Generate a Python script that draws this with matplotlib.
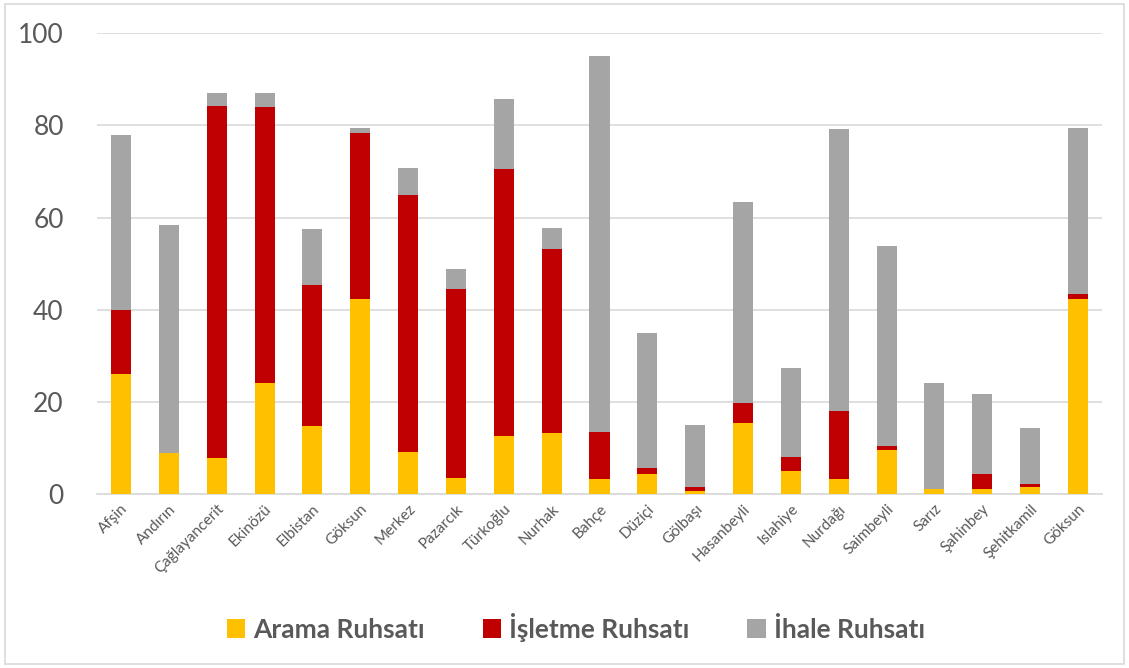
import numpy as np
import matplotlib.pyplot as plt
from matplotlib.patches import Rectangle

ilceler = ['Afşin', 'Andırın', 'Çağlayancerit', 'Ekinözü', 'Elbistan', 'Göksun', 'Merkez',
           'Pazarcık', 'Türkoğlu', 'Nurhak', 'Bahçe', 'Düziçi', 'Gölbaşı', 'Hasanbeyli',
           'Islahiye', 'Nurdağı', 'Saimbeyli', 'Sarız', 'Şahinbey', 'Şehitkamil', 'Göksun']
arama =    [26.0, 8.8, 7.7, 24.0, 14.7, 42.3, 9.0, 3.4, 12.5, 13.2, 3.2, 4.2, 0.6, 15.3,
            4.9, 3.2, 9.5, 1.0, 1.0, 1.35, 42.3]
isletme =  [14.0, 0.0, 76.5, 60.0, 30.6, 36.1, 55.9, 41.1, 58.0, 40.0, 10.2, 1.3, 0.9, 4.4,
            3.0, 14.7, 0.8, 0.0, 3.2, 0.75, 1.1]
ihale =    [38.0, 49.6, 2.8, 3.0, 12.2, 1.1, 5.9, 4.3, 15.3, 4.5, 81.7, 29.4, 13.4, 43.7,
            19.4, 61.3, 43.5, 23.0, 17.4, 12.1, 36.1]

plt.rcParams['font.family'] = ['Lato', 'DejaVu Sans']
yazi = '#595959'

fig = plt.figure(figsize=(11.29, 6.68), dpi=100)
ax = fig.add_axes([0.086, 0.261, 0.89, 0.689])

x = np.arange(len(ilceler))
a = np.array(arama)
b = np.array(isletme)
c = np.array(ihale)
w = 0.42
ax.bar(x, a, w, color='#FFC000', label='Arama Ruhsatı', zorder=3)
ax.bar(x, b, w, bottom=a, color='#C00000', label='İşletme Ruhsatı', zorder=3)
ax.bar(x, c, w, bottom=a + b, color='#A5A5A5', label='İhale Ruhsatı', zorder=3)

ax.set_xlim(-0.5, len(ilceler) - 0.5)
ax.set_ylim(0, 100)
ax.set_yticks([0, 20, 40, 60, 80, 100])
ax.set_xticks(x)
ax.set_xticklabels(ilceler, rotation=45, ha='right', rotation_mode='anchor',
                   fontsize=11, color=yazi)
ax.tick_params(axis='y', labelsize=19, labelcolor=yazi, length=0, pad=24)
ax.tick_params(axis='x', length=0, pad=6)
ax.grid(axis='y', color='#D9D9D9', linewidth=1.2, zorder=0)
for s in ['top', 'right', 'left']:
    ax.spines[s].set_visible(False)
ax.spines['bottom'].set_color('#D9D9D9')
ax.spines['bottom'].set_linewidth(1.2)

leg = fig.legend(loc='center', bbox_to_anchor=(0.51, 0.061), ncol=3, frameon=False,
                 prop={'size': 19, 'weight': 'bold'}, handlelength=0.7, handleheight=0.7,
                 handletextpad=0.3, columnspacing=2.2)
for t in leg.get_texts():
    t.set_color(yazi)

fig.patches.append(Rectangle((0.004, 0.006), 0.992, 0.988, transform=fig.transFigure,
                             fill=False, edgecolor='#D9D9D9', linewidth=1.2))

fig.savefig('out.png', dpi=100)
